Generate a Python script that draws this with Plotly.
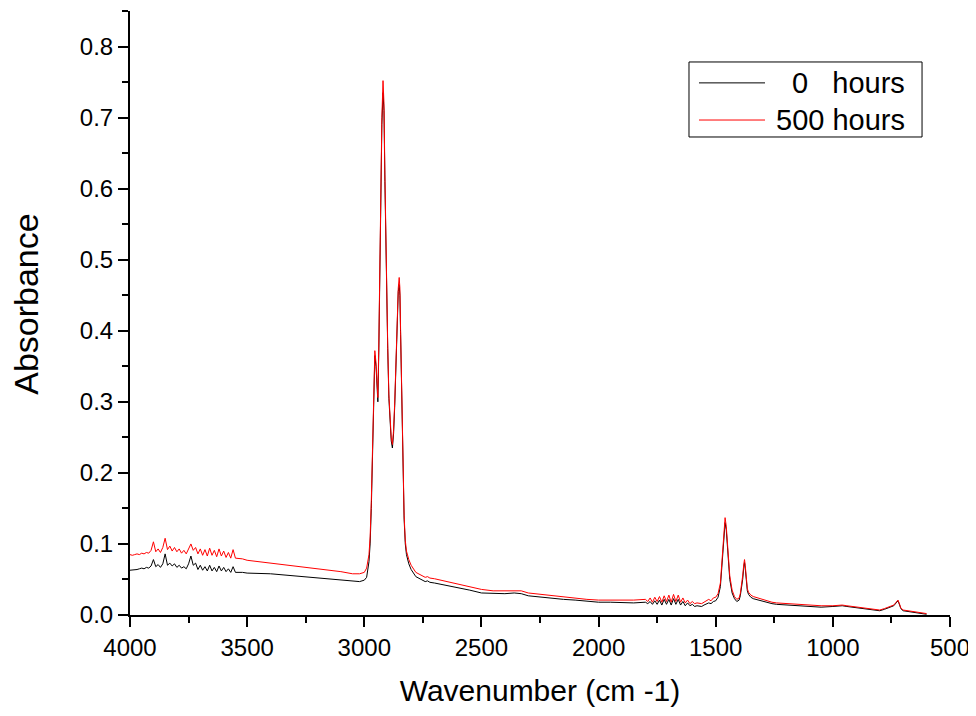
import plotly.graph_objects as go

# === DATA ===
wavenumber = [
    4000, 3990, 3980, 3970, 3960, 3950, 3940, 3930, 3920, 3910,
    3900, 3890, 3880, 3870, 3860, 3850, 3840, 3830, 3820, 3810,
    3800, 3790, 3780, 3770, 3760, 3750, 3740, 3730, 3720, 3710,
    3700, 3690, 3680, 3670, 3660, 3650, 3640, 3630, 3620, 3610,
    3600, 3590, 3580, 3570, 3560, 3550, 3520, 3500, 3400, 3300,
    3200, 3100, 3050, 3020, 3000, 2990, 2980, 2975, 2970, 2965,
    2960, 2955, 2950, 2945, 2942, 2938, 2935, 2930, 2925, 2920,
    2916, 2912, 2908, 2905, 2900, 2895, 2890, 2885, 2880, 2875,
    2870, 2865, 2860, 2855, 2851, 2848, 2845, 2840, 2835, 2830,
    2825, 2820, 2810, 2800, 2780, 2760, 2740, 2730, 2720, 2700,
    2650, 2600, 2550, 2500, 2450, 2400, 2360, 2330, 2300, 2250,
    2200, 2150, 2100, 2050, 2000, 1950, 1900, 1850, 1800, 1790,
    1780, 1770, 1760, 1750, 1740, 1730, 1720, 1710, 1700, 1690,
    1680, 1670, 1660, 1650, 1640, 1630, 1620, 1610, 1600, 1590,
    1580, 1570, 1560, 1550, 1530, 1520, 1510, 1500, 1490, 1480,
    1475, 1470, 1465, 1460, 1455, 1450, 1445, 1440, 1430, 1420,
    1410, 1400, 1395, 1390, 1385, 1380, 1377, 1374, 1370, 1365,
    1360, 1350, 1340, 1320, 1300, 1280, 1260, 1240, 1200, 1160,
    1150, 1100, 1050, 1000, 960, 940, 900, 850, 800, 780,
    760, 740, 730, 722, 715, 710, 700, 680, 660, 640,
    620, 600,
]

abs_0h = [
    0.063, 0.063, 0.064, 0.064, 0.065, 0.066, 0.065, 0.067, 0.066, 0.069,
    0.078, 0.068, 0.071, 0.067, 0.072, 0.086, 0.070, 0.073, 0.069, 0.072,
    0.067, 0.070, 0.066, 0.068, 0.065, 0.072, 0.083, 0.070, 0.073, 0.064,
    0.070, 0.063, 0.068, 0.062, 0.070, 0.062, 0.067, 0.061, 0.069, 0.062,
    0.067, 0.061, 0.065, 0.060, 0.068, 0.060, 0.060, 0.059, 0.058, 0.055,
    0.052, 0.049, 0.047, 0.047, 0.049, 0.053, 0.075, 0.100, 0.150, 0.240,
    0.320, 0.365, 0.350, 0.315, 0.300, 0.370, 0.450, 0.590, 0.690, 0.735,
    0.710, 0.610, 0.510, 0.440, 0.375, 0.305, 0.265, 0.245, 0.235, 0.255,
    0.295, 0.355, 0.415, 0.455, 0.465, 0.450, 0.395, 0.295, 0.195, 0.135,
    0.100, 0.085, 0.072, 0.064, 0.054, 0.050, 0.047, 0.048, 0.046, 0.045,
    0.042, 0.039, 0.035, 0.031, 0.030, 0.030, 0.031, 0.030, 0.027, 0.025,
    0.023, 0.022, 0.021, 0.019, 0.018, 0.018, 0.017, 0.017, 0.018, 0.016,
    0.019, 0.015, 0.020, 0.015, 0.021, 0.014, 0.022, 0.015, 0.022, 0.014,
    0.023, 0.015, 0.022, 0.014, 0.019, 0.013, 0.017, 0.013, 0.015, 0.012,
    0.013, 0.012, 0.012, 0.014, 0.017, 0.016, 0.019, 0.020, 0.025, 0.040,
    0.065, 0.095, 0.120, 0.130, 0.120, 0.095, 0.070, 0.050, 0.031, 0.023,
    0.019, 0.021, 0.027, 0.036, 0.050, 0.068, 0.074, 0.066, 0.046, 0.034,
    0.029, 0.025, 0.023, 0.021, 0.019, 0.017, 0.016, 0.015, 0.014, 0.014,
    0.013, 0.012, 0.011, 0.012, 0.013, 0.012, 0.010, 0.008, 0.006, 0.008,
    0.010, 0.013, 0.017, 0.020, 0.014, 0.009, 0.006, 0.005, 0.004, 0.003,
    0.002, 0.001,
]

abs_500h = [
    0.085, 0.084, 0.085, 0.086, 0.085, 0.087, 0.086, 0.088, 0.087, 0.091,
    0.103, 0.089, 0.093, 0.088, 0.095, 0.108, 0.092, 0.097, 0.090, 0.095,
    0.089, 0.093, 0.087, 0.091, 0.086, 0.094, 0.100, 0.091, 0.095, 0.086,
    0.093, 0.084, 0.092, 0.083, 0.094, 0.084, 0.091, 0.082, 0.093, 0.083,
    0.090, 0.081, 0.088, 0.080, 0.092, 0.080, 0.079, 0.077, 0.073, 0.069,
    0.066, 0.061, 0.058, 0.058, 0.060, 0.066, 0.085, 0.110, 0.160, 0.250,
    0.330, 0.372, 0.355, 0.320, 0.306, 0.380, 0.460, 0.600, 0.700, 0.752,
    0.720, 0.620, 0.520, 0.450, 0.380, 0.310, 0.270, 0.250, 0.240, 0.260,
    0.300, 0.360, 0.420, 0.460, 0.475, 0.460, 0.400, 0.300, 0.200, 0.140,
    0.105, 0.090, 0.078, 0.070, 0.060, 0.056, 0.053, 0.054, 0.052, 0.051,
    0.047, 0.044, 0.040, 0.036, 0.034, 0.034, 0.035, 0.034, 0.031, 0.029,
    0.027, 0.025, 0.024, 0.022, 0.021, 0.021, 0.020, 0.021, 0.022, 0.019,
    0.024, 0.018, 0.025, 0.019, 0.026, 0.018, 0.027, 0.019, 0.028, 0.018,
    0.029, 0.019, 0.028, 0.018, 0.024, 0.017, 0.021, 0.016, 0.019, 0.016,
    0.017, 0.016, 0.016, 0.018, 0.022, 0.020, 0.024, 0.025, 0.030, 0.045,
    0.070, 0.100, 0.125, 0.137, 0.125, 0.100, 0.075, 0.055, 0.035, 0.026,
    0.022, 0.024, 0.030, 0.040, 0.055, 0.072, 0.078, 0.070, 0.050, 0.037,
    0.032, 0.028, 0.026, 0.024, 0.022, 0.019, 0.018, 0.017, 0.016, 0.016,
    0.015, 0.014, 0.013, 0.013, 0.014, 0.013, 0.011, 0.009, 0.007, 0.009,
    0.011, 0.014, 0.018, 0.021, 0.015, 0.010, 0.007, 0.006, 0.005, 0.004,
    0.003, 0.002,
]

series_names = ["0\u00a0\u00a0\u00a0hours", "500 hours"]
series_colors = ["black", "red"]

FONT = "Liberation Sans, Arial, sans-serif"

# === PLOT ===
fig = go.Figure()
for name, vals, color in zip(series_names, [abs_0h, abs_500h], series_colors):
    fig.add_trace(go.Scatter(x=wavenumber, y=vals, mode="lines", name=name,
                             line=dict(color=color, width=1), showlegend=False))

axis_common = dict(
    showline=True, linecolor="black", linewidth=2,
    ticks="outside", ticklen=10, tickwidth=2, tickcolor="black",
    showgrid=False, zeroline=False, mirror=False,
    tickfont=dict(family=FONT, size=24, color="black"),
)

# Origin-style boxed legend (line sample + right-aligned label)
legend_rows_y = [0.881, 0.8195]
shapes = [dict(type="rect", xref="paper", yref="paper",
               x0=0.6817, x1=0.9659, y0=0.7914, y1=0.9156,
               line=dict(color="black", width=1), fillcolor="white", layer="above")]
annotations = []
for name, color, ry in zip(series_names, series_colors, legend_rows_y):
    shapes.append(dict(type="line", xref="paper", yref="paper",
                       x0=0.6939, x1=0.7744, y0=ry, y1=ry,
                       line=dict(color=color, width=1), layer="above"))
    annotations.append(dict(xref="paper", yref="paper", x=0.9476, y=ry,
                            xanchor="right", yanchor="middle", showarrow=False,
                            text=name, font=dict(family=FONT, size=29, color="black")))

annotations.append(dict(xref="paper", yref="paper", x=-0.127, y=0.515,
                        xanchor="center", yanchor="middle", showarrow=False,
                        textangle=-90, text="Absorbance",
                        font=dict(family=FONT, size=34, color="black")))

# page body adds 8px on top/left, so the figure is a bit smaller than the window
fig.update_layout(
    width=968, height=708,
    margin=dict(l=122, r=26, t=3, b=101),
    paper_bgcolor="white", plot_bgcolor="white",
    font=dict(family=FONT, color="black"),
    xaxis=dict(
        range=[4000, 500], tickvals=[4000, 3500, 3000, 2500, 2000, 1500, 1000, 500],
        minor=dict(dtick=250, ticks="outside", ticklen=6, tickwidth=2, tickcolor="black"),
        title=dict(text="Wavenumber (cm -1)", font=dict(family=FONT, size=30), standoff=20),
        **axis_common,
    ),
    yaxis=dict(
        range=[0, 0.85], tickvals=[0, 0.1, 0.2, 0.3, 0.4, 0.5, 0.6, 0.7, 0.8],
        tickformat=".1f",
        minor=dict(dtick=0.05, ticks="outside", ticklen=6, tickwidth=2, tickcolor="black"),
        **axis_common,
    ),
    shapes=shapes,
    annotations=annotations,
    showlegend=False,
)

fig.write_html("out.html")
